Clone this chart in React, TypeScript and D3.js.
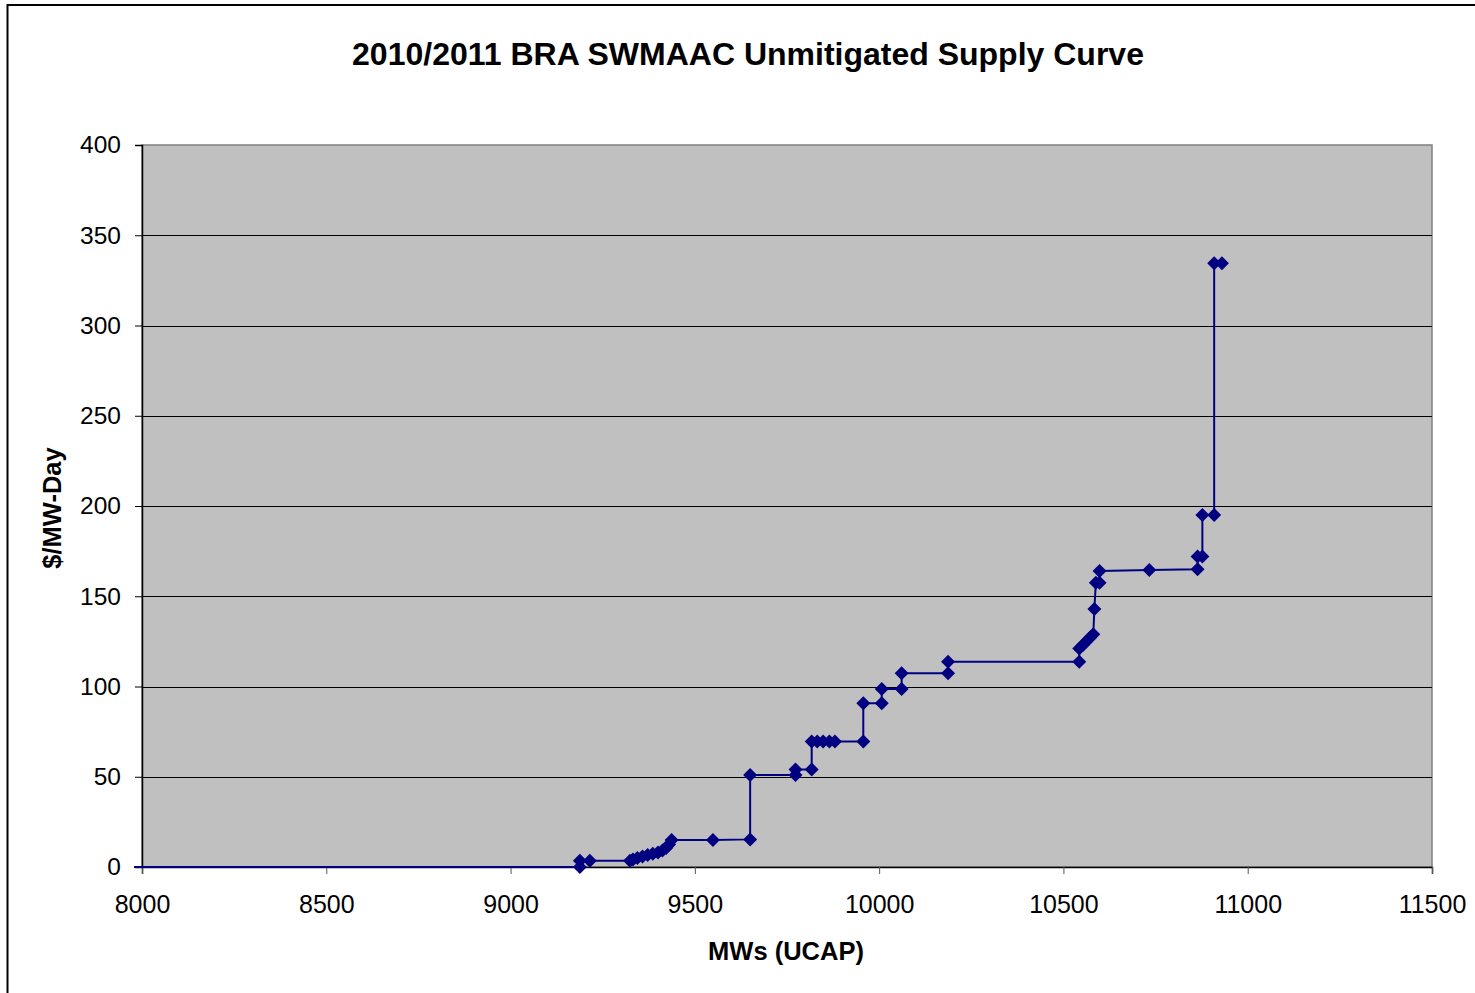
import React, { useEffect, useRef } from 'react';
import * as d3 from 'd3';

// supply curve points, MW (UCAP) and $/MW-Day, in order along the curve
const mwValues = [
  0, 9188, 9188, 9215, 9324, 9332, 9344, 9358, 9372, 9386, 9400, 9412, 9422, 9430, 9437,
  9549, 9650, 9650, 9773, 9773, 9817, 9817, 9832, 9848, 9865, 9880, 9957, 9957, 10007,
  10007, 10061, 10061, 10187, 10187, 10543, 10543, 10553, 10562, 10572, 10581, 10584,
  10588, 10598, 10598, 10733, 10864, 10864, 10877, 10877, 10909, 10909, 10930,
];
const priceValues = [
  0, 0, 3.5, 3.5, 3.5, 4.2, 5, 5.8, 6.6, 7.3, 8, 9.2, 10.5, 12.5, 15,
  15, 15.3, 51, 51, 54, 54, 69.5, 69.5, 69.5, 69.5, 69.5, 69.5, 90.7, 90.7,
  98.6, 98.6, 107.3, 107.3, 113.7, 113.7, 121, 123, 125, 127, 129, 143,
  157.5, 157.5, 164, 164.5, 164.9, 172, 172, 195, 195, 334.5, 334.5,
];
const xTicks = [8000, 8500, 9000, 9500, 10000, 10500, 11000, 11500];
const yTicks = [0, 50, 100, 150, 200, 250, 300, 350, 400];

const title = '2010/2011 BRA SWMAAC Unmitigated Supply Curve';
const xTitle = 'MWs (UCAP)';
const yTitle = '$/MW-Day';

const App = () => {
  const svgRef = useRef<SVGSVGElement>(null);

  useEffect(() => {
    const svg = d3.select(svgRef.current);
    svg.selectAll('*').remove();

    const font = '"Liberation Sans", Arial, sans-serif';
    const left = 142, right = 1432, top = 145, bottom = 867;

    const x = d3.scaleLinear().domain([8000, 11500]).range([left, right]);
    const y = d3.scaleLinear().domain([0, 400]).range([bottom, top]);

    // outer chart frame
    svg.append('rect')
      .attr('x', 7.5).attr('y', 5)
      .attr('width', 1600).attr('height', 1200)
      .attr('fill', '#fff').attr('stroke', '#000').attr('stroke-width', 2);

    // plot area
    svg.append('rect')
      .attr('x', left).attr('y', top)
      .attr('width', right - left).attr('height', bottom - top)
      .attr('fill', '#c0c0c0').attr('stroke', '#808080').attr('stroke-width', 1.5);

    // gridlines
    svg.append('g')
      .selectAll('line')
      .data(yTicks.filter((d) => d > 0 && d < 400))
      .join('line')
      .attr('x1', left).attr('x2', right)
      .attr('y1', (d) => Math.round(y(d)) + 0.5).attr('y2', (d) => Math.round(y(d)) + 0.5)
      .attr('stroke', '#000').attr('stroke-width', 1);

    // y axis
    const yAxis = svg.append('g')
      .attr('transform', `translate(${left},0)`)
      .call(d3.axisLeft(y).tickValues(yTicks).tickSize(7).tickPadding(14));
    yAxis.select('.domain').attr('stroke', '#000').attr('stroke-width', 1.5);
    yAxis.selectAll('.tick line').attr('stroke', '#000');
    yAxis.selectAll('text')
      .attr('font-family', font).attr('font-size', 24.5).attr('fill', '#000');

    // x axis
    const xAxis = svg.append('g')
      .attr('transform', `translate(0,${bottom})`)
      .call(d3.axisBottom(x).tickValues(xTicks).tickSize(7).tickPadding(21).tickFormat(d3.format('d')));
    xAxis.select('.domain').attr('stroke', '#000').attr('stroke-width', 1.5);
    xAxis.selectAll('.tick line').attr('stroke', '#555');
    xAxis.selectAll('text')
      .attr('font-family', font).attr('font-size', 25).attr('fill', '#000');

    const pts = mwValues.map((mw, i) => [mw, priceValues[i]] as [number, number]);

    svg.append('clipPath').attr('id', 'plotClip')
      .append('rect')
      .attr('x', left - 8).attr('y', top - 10)
      .attr('width', right - left + 16).attr('height', bottom - top + 20);

    const line = d3.line<[number, number]>()
      .x((d) => x(d[0]))
      .y((d) => y(d[1]));

    svg.append('path')
      .datum(pts)
      .attr('clip-path', 'url(#plotClip)')
      .attr('d', line)
      .attr('fill', 'none')
      .attr('stroke', '#000080')
      .attr('stroke-width', 2);

    // diamond markers
    const s = 7;
    svg.append('g')
      .selectAll('path')
      .data(pts.filter((d) => d[0] >= 8000))
      .join('path')
      .attr('transform', (d) => `translate(${x(d[0])},${y(d[1])})`)
      .attr('d', `M0,${-s}L${s},0L0,${s}L${-s},0Z`)
      .attr('fill', '#000080');

    // titles
    svg.append('text')
      .attr('x', 748).attr('y', 65)
      .attr('text-anchor', 'middle')
      .attr('font-family', font).attr('font-weight', 'bold').attr('font-size', 32)
      .text(title);

    svg.append('text')
      .attr('x', 786).attr('y', 960)
      .attr('text-anchor', 'middle')
      .attr('font-family', font).attr('font-weight', 'bold').attr('font-size', 25.5)
      .text(xTitle);

    svg.append('text')
      .attr('transform', `translate(61,508) rotate(-90)`)
      .attr('text-anchor', 'middle')
      .attr('font-family', font).attr('font-weight', 'bold').attr('font-size', 25.5)
      .text(yTitle);
  }, []);

  return (
    <svg
      ref={svgRef}
      width={1475}
      height={993}
      style={{ position: 'absolute', left: 0, top: 0, display: 'block' }}
    />
  );
};

export default App;
